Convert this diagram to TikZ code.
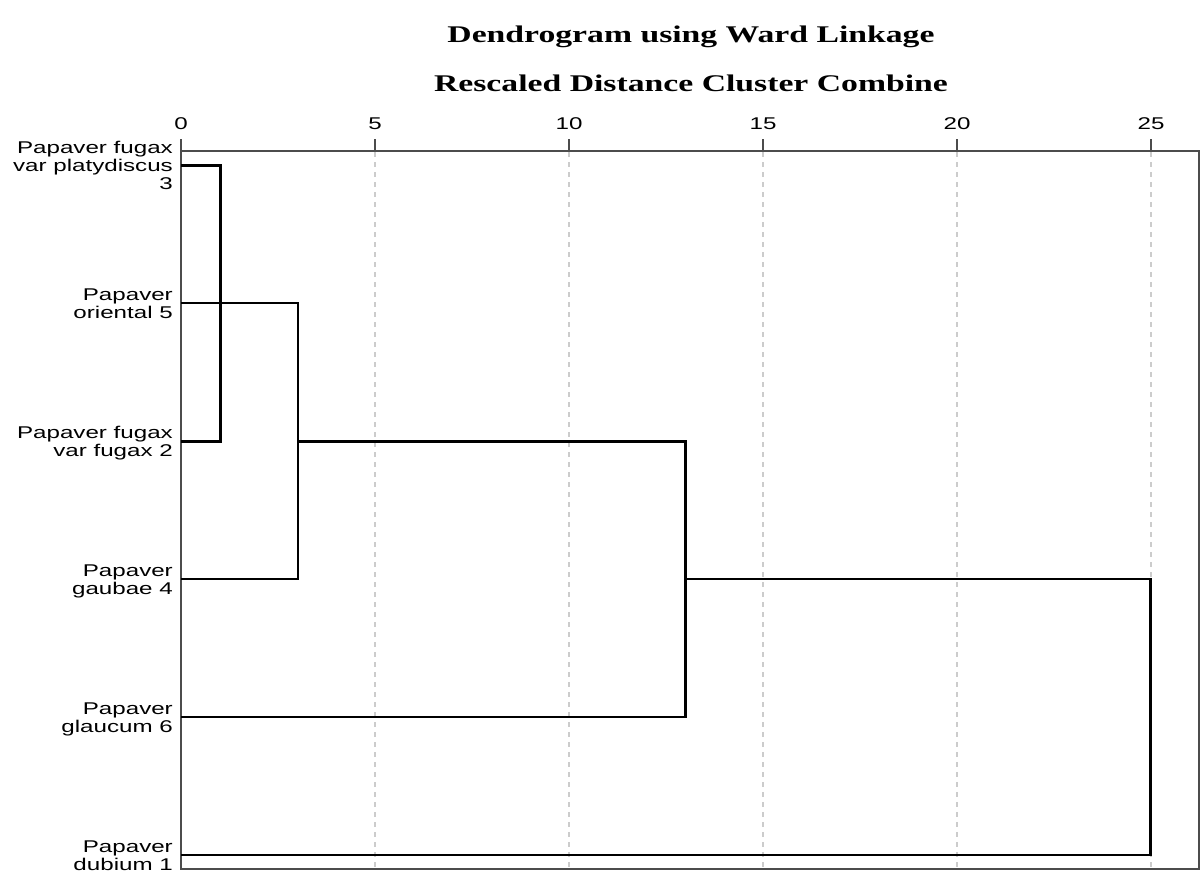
\documentclass[tikz,border=0pt]{standalone}
\usepackage{fontspec}
\setmainfont{Liberation Serif}
\newfontfamily\labfont{Liberation Sans}
\newcommand\hs[1]{\scalebox{1.42}[1]{#1}}
\newcommand\ts[1]{\scalebox{1.41}[1]{#1}}
\begin{document}
\begin{tikzpicture}[x=1pt,y=-1pt,
  dend/.style={line width=2.8pt,black,line join=miter},
  frame/.style={line width=2pt,black!70},
  grid/.style={line width=1.4pt,black!20,dash pattern=on 5pt off 5pt},
  leaflabel/.style={anchor=east,inner sep=0pt,font=\labfont\fontsize{17}{18}\selectfont,align=right},
  ticklabel/.style={anchor=base,inner sep=0pt,font=\labfont\fontsize{17}{18}\selectfont},
  title/.style={anchor=base,inner sep=0pt,font=\bfseries\fontsize{23.9}{26}\selectfont}]
\useasboundingbox (0,0) rectangle (1204,873);
\fill[white] (0,0) rectangle (1204,873);
% titles
\node[title] (t1) at (691,42) {\ts{Dendrogram using Ward Linkage}};
\node[title] (t2) at (691,91) {\ts{Rescaled Distance Cluster Combine}};
% grid lines
\foreach \x in {375,569,763,957,1151} \draw[grid] (\x,152) -- (\x,868);
% frame and ticks
\draw[frame] (181,151) rectangle (1199,869);
\foreach \x/\v in {181/0,375/5,569/10,763/15,957/20,1151/25}{
  \draw[frame] (\x,139) -- (\x,151);
  \node[ticklabel] (tk\v) at (\x,129) {\hs{\v}};
}
% leaves
\coordinate (l1) at (181,165.7);
\coordinate (l2) at (181,303);
\coordinate (l3) at (181,441.7);
\coordinate (l4) at (181,579);
\coordinate (l5) at (181,717);
\coordinate (l6) at (181,855);
\node[leaflabel] (n1) at (173,168.1) {\hs{\begin{tabular}{@{}r@{}}Papaver fugax\\var platydiscus\\3\end{tabular}}};
\node[leaflabel] (n2) at (173,305.4) {\hs{\begin{tabular}{@{}r@{}}Papaver\\oriental 5\end{tabular}}};
\node[leaflabel] (n3) at (173,444.1) {\hs{\begin{tabular}{@{}r@{}}Papaver fugax\\var fugax 2\end{tabular}}};
\node[leaflabel] (n4) at (173,581.4) {\hs{\begin{tabular}{@{}r@{}}Papaver\\gaubae 4\end{tabular}}};
\node[leaflabel] (n5) at (173,719.4) {\hs{\begin{tabular}{@{}r@{}}Papaver\\glaucum 6\end{tabular}}};
\node[leaflabel] (n6) at (173,857.4) {\hs{\begin{tabular}{@{}r@{}}Papaver\\dubium 1\end{tabular}}};
% merges
\coordinate (c1) at (220.5,303);
\coordinate (c2) at (298,441.7);
\coordinate (c3) at (685.5,579);
\coordinate (c4) at (1150.5,717);
\draw[dend] (l1) -| (c1) |- (l3);
\draw[dend] (l2) -- (c1);
\draw[dend] (c1) -| (c2) |- (l4);
\draw[dend] (c2) -| (c3) |- (l5);
\draw[dend] (c3) -| (c4) |- (l6);
\end{tikzpicture}
\end{document}
